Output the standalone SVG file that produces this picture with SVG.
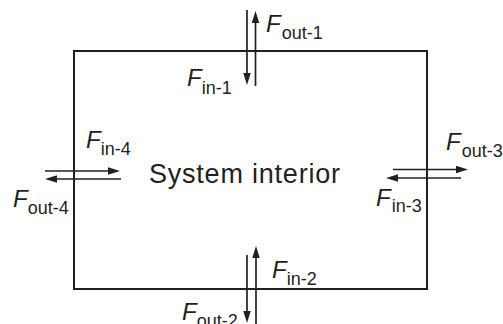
<svg xmlns="http://www.w3.org/2000/svg" width="503" height="324" viewBox="0 0 503 324">
  <style>
    .box { fill: none; stroke: #231f20; stroke-width: 2; }
    .flow { stroke: #231f20; stroke-width: 1.7; fill: none; marker-end: url(#ah); }
    .lbl { font-family: "Liberation Sans", Arial, sans-serif; fill: #231f20; font-size: 24px; }
    .f { font-style: italic; }
    .sub { font-size: 18px; font-style: normal; }
    .title { font-family: "Liberation Sans", Arial, sans-serif; fill: #231f20; font-size: 27px; }
  </style>
  <defs>
    <marker id="ah" markerUnits="userSpaceOnUse" markerWidth="13" markerHeight="8" refX="6" refY="3.75" orient="auto">
      <path d="M0,0 L12,3.75 L0,7.5 z" fill="#231f20"/>
    </marker>
  </defs>
  <rect width="503" height="324" fill="#ffffff"/>
  <g id="system">
    <rect class="box" x="74" y="51" width="353" height="238"/>
    <text class="title" x="149" y="183" textLength="191" lengthAdjust="spacing">System interior</text>
  </g>
  <g id="connectors">
    <line class="flow" x1="247" y1="10" x2="247" y2="79"/>
    <line class="flow" x1="255.5" y1="86" x2="255.5" y2="17"/>
    <line class="flow" x1="45" y1="171" x2="114" y2="171"/>
    <line class="flow" x1="121" y1="179" x2="51" y2="179"/>
    <line class="flow" x1="393" y1="169.5" x2="462" y2="169.5"/>
    <line class="flow" x1="461" y1="178" x2="392" y2="178"/>
    <line class="flow" x1="247" y1="255" x2="247" y2="317"/>
    <line class="flow" x1="256" y1="324" x2="256" y2="252"/>
  </g>
  <g id="labels">
    <text class="lbl" x="266" y="32"><tspan class="f">F</tspan><tspan class="sub" dx="1" dy="7">out-1</tspan></text>
    <text class="lbl" x="187" y="86"><tspan class="f">F</tspan><tspan class="sub" dx="0" dy="8">in-1</tspan></text>
    <text class="lbl" x="86" y="148"><tspan class="f">F</tspan><tspan class="sub" dx="0" dy="7">in-4</tspan></text>
    <text class="lbl" x="13" y="207"><tspan class="f">F</tspan><tspan class="sub" dx="0" dy="7">out-4</tspan></text>
    <text class="lbl" x="446" y="150"><tspan class="f">F</tspan><tspan class="sub" dx="1" dy="7">out-3</tspan></text>
    <text class="lbl" x="376" y="206"><tspan class="f">F</tspan><tspan class="sub" dx="1" dy="6">in-3</tspan></text>
    <text class="lbl" x="272" y="278"><tspan class="f">F</tspan><tspan class="sub" dx="0" dy="7">in-2</tspan></text>
    <text class="lbl" x="182" y="320"><tspan class="f">F</tspan><tspan class="sub" dx="0" dy="7">out-2</tspan></text>
  </g>
</svg>
